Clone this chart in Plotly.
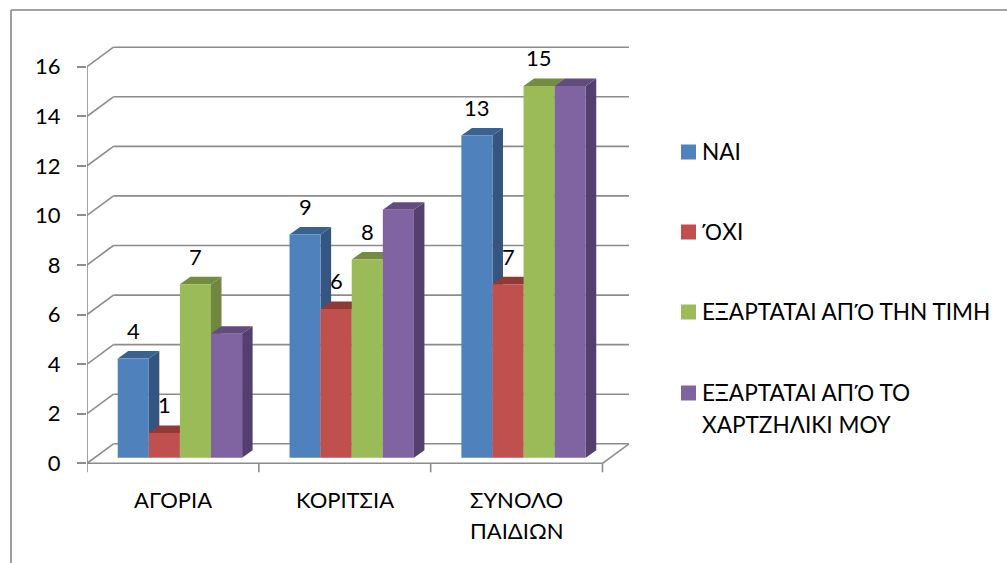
import plotly.graph_objects as go

categories = [["ΑΓΟΡΙΑ"], ["ΚΟΡΙΤΣΙΑ"], ["ΣΥΝΟΛΟ", "ΠΑΙΔΙΩΝ"]]
series_names = [["ΝΑΙ"], ["ΌΧΙ"], ["ΕΞΑΡΤΑΤΑΙ ΑΠΌ ΤΗΝ ΤΙΜΗ"], ["ΕΞΑΡΤΑΤΑΙ ΑΠΌ ΤΟ", "ΧΑΡΤΖΗΛΙΚΙ ΜΟΥ"]]
nai = [4, 9, 13]
ochi = [1, 6, 7]
timi = [7, 8, 15]
chartziliki = [5, 10, 15]
labelled = [True, True, True, False]
y_ticks = [0, 2, 4, 6, 8, 10, 12, 14, 16]

series = [nai, ochi, timi, chartziliki]
front = ["#4F81BD", "#C0504D", "#9BBB59", "#8064A2"]
side = ["#335580", "#8A3836", "#6F873F", "#53406F"]
top = ["#3A6291", "#8E3B38", "#748C42", "#624C7E"]
grid = "#8C8C8C"
FONT = "Lato"
FS = 22
FS_LEG = 22.6

W, H = 1007, 563
# front plane of the chart, in pixels
L, R, T, B = 87.0, 602.5, 66.7, 463.3
PX = 3 / (R - L)
PY = 16 / (B - T)
# subplot area is wider than the front plane, so the walls and ticks are not clipped
AR, AT, AB = 640.0, 30.0, 480.0
x_range = [0, (AR - L) * PX]
y_range = [-(AB - B) * PY, (B - AT) * PY]

wall_dx, wall_dy = 26.5 * PX, 19.5 * PY
depth_dx, depth_dy = 10.5 * PX, 7.5 * PY
lift = 5.6 * PY
bar_w = 31.1 * PX
first = 30.7 * PX


def paper_x(px):
    return (px - L) / (AR - L)


def paper_y(py):
    return (AB - py) / (AB - AT)


def poly(pts):
    return "M" + "L".join(f"{x:.4f},{y:.4f}" for x, y in pts) + "Z"


def line(x0, y0, x1, y1, w=1.6, c=grid):
    return dict(type="line", x0=x0, y0=y0, x1=x1, y1=y1, xref="x", yref="y",
                layer="below", line=dict(color=c, width=w))


def legend_text(t):
    # Lato drops the tonos on this capital, so that one glyph uses Noto Sans
    return t.replace("Ό", '<span style="font-family:Noto Sans">Ό</span>')


shapes = []
for v in y_ticks:
    shapes.append(line(0, v, wall_dx, v + wall_dy))
    shapes.append(line(wall_dx, v + wall_dy, 3 + wall_dx, v + wall_dy))
shapes.append(line(0, 0, 3, 0))
shapes.append(line(3, 0, 3 + wall_dx, wall_dy))
shapes.append(line(0, 0, 0, 16))
for c in range(4):
    shapes.append(line(c, 0, c, -9 * PY))

annotations = []
fig = go.Figure()
for s, vals in enumerate(series):
    xs = [c + first + (s + 0.5) * bar_w for c in range(len(vals))]
    fig.add_trace(go.Bar(x=xs, y=vals, base=[lift] * len(vals), width=bar_w,
                         marker=dict(color=front[s], line=dict(width=0)),
                         name=" ".join(series_names[s]), showlegend=False))
    for x, v in zip(xs, vals):
        xl, xr = x - bar_w / 2, x + bar_w / 2
        yb, yt = lift, lift + v
        shapes.append(dict(type="path", layer="below", line=dict(width=0), fillcolor=side[s],
                           path=poly([(xr, yb), (xr + depth_dx, yb + depth_dy),
                                      (xr + depth_dx, yt + depth_dy), (xr, yt)])))
        shapes.append(dict(type="path", layer="below", line=dict(width=0), fillcolor=top[s],
                           path=poly([(xl, yt), (xr, yt), (xr + depth_dx, yt + depth_dy),
                                      (xl + depth_dx, yt + depth_dy)])))
        if labelled[s]:
            annotations.append(dict(x=x, y=yt, xref="x", yref="y", text=str(v), showarrow=False,
                                    xanchor="center", yanchor="middle", yshift=28,
                                    font=dict(family=FONT, size=FS, color="black")))

for c, lines in enumerate(categories):
    for i, t in enumerate(lines):
        annotations.append(dict(x=c + 0.5, y=0, xref="x", yref="y", text=t, showarrow=False,
                                xanchor="center", yanchor="middle", yshift=-36 - 31 * i,
                                font=dict(family=FONT, size=FS, color="black")))

legend_y = [152, 232, 312, 393]
for s, lines in enumerate(series_names):
    yp = legend_y[s]
    shapes.append(dict(type="rect", xref="paper", yref="paper", x0=paper_x(681), x1=paper_x(696),
                       y0=paper_y(yp + 7.5), y1=paper_y(yp - 7.5), fillcolor=front[s], line=dict(width=0)))
    for i, t in enumerate(lines):
        annotations.append(dict(x=paper_x(700), y=paper_y(yp - 1 + 32 * i), xref="paper", yref="paper",
                                xanchor="left", yanchor="middle", text=legend_text(t), showarrow=False,
                                font=dict(family=FONT, size=FS_LEG, color="black")))

frame_c = "#868686"
shapes.append(dict(type="line", xref="paper", yref="paper", x0=paper_x(11), x1=paper_x(1007),
                   y0=paper_y(10), y1=paper_y(10), line=dict(color=frame_c, width=1.6)))
shapes.append(dict(type="line", xref="paper", yref="paper", x0=paper_x(11), x1=paper_x(11),
                   y0=paper_y(10), y1=paper_y(563), line=dict(color=frame_c, width=1.6)))

fig.update_layout(
    width=W, height=H, autosize=False,
    margin=dict(l=L, r=W - AR, t=AT, b=H - AB, pad=0),
    paper_bgcolor="white", plot_bgcolor="rgba(0,0,0,0)",
    barmode="overlay", shapes=shapes, annotations=annotations, showlegend=False,
    font=dict(family=FONT, size=FS, color="black"),
    xaxis=dict(range=x_range, showgrid=False, zeroline=False, showline=False, ticks="",
               showticklabels=False, fixedrange=True),
    yaxis=dict(range=y_range, tickvals=y_ticks, showgrid=False, zeroline=False,
               showline=False, ticks="outside", ticklen=9,
               tickcolor=grid, tickwidth=1.6, ticklabelstandoff=12,
               tickfont=dict(family=FONT, size=FS, color="black"), fixedrange=True),
)
fig.write_html("out.html", config={"displayModeBar": False},
               post_script="document.body.style.margin='0';document.body.style.overflow='hidden';")
